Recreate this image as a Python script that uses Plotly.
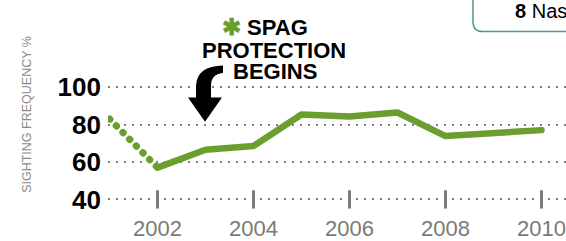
import plotly.graph_objects as go

# ---- data ----
years = [2001, 2002, 2003, 2004, 2005, 2006, 2007, 2008, 2010]
sighting_freq = [83, 57, 66.5, 68.5, 85.3, 84.3, 86.4, 73.8, 77]
y_ticks = [40, 60, 80, 100]
x_ticks = [2002, 2004, 2006, 2008, 2010]
x_tick_labels = ["2002", "2004", "2006", "2008", "2010"]

GREEN = "#6b9d2f"
GRAY = "#7a7a7a"
W, H = 566, 241
L, R, T, B = 108, 0, 68, 30
PW, PH = W - L - R, H - T - B


def px(x):
    return (x - L) / PW


def py(y):
    return (H - B - y) / PH


fig = go.Figure()

# dotted early segment
fig.add_trace(go.Scatter(
    x=years[:2], y=sighting_freq[:2], mode="lines",
    line=dict(color=GREEN, width=7, dash="0.5px,9px"),
    hoverinfo="skip", showlegend=False, cliponaxis=False))
# solid segment
fig.add_trace(go.Scatter(
    x=years[1:], y=sighting_freq[1:], mode="lines",
    line=dict(color=GREEN, width=6.5),
    hoverinfo="skip", showlegend=False, cliponaxis=False))
# x tick marks across the 40 grid line
fig.add_trace(go.Scatter(
    x=x_ticks, y=[y_ticks[0]] * len(x_ticks), mode="markers",
    marker=dict(symbol="line-ns", size=13, line=dict(color=GRAY, width=3)),
    hoverinfo="skip", showlegend=False, cliponaxis=False))

fig.update_xaxes(
    range=[2002 - (157.5 - L) / 48, 2002 + (W - 157.5) / 48],
    tickvals=x_ticks, ticktext=x_tick_labels, ticks="",
    showgrid=False, zeroline=False, showline=False,
    tickfont=dict(family="Liberation Sans, Arial", size=22, color=GRAY),
    ticklabelstandoff=4)

ppu = 38 / 20
fig.update_yaxes(
    range=[40 - (H - B - 201.3) / ppu, 100 + (87.3 - T) / ppu],
    tickvals=y_ticks, ticks="",
    showgrid=True, gridcolor="#808080", gridwidth=2, griddash="2px,6px",
    zeroline=False, showline=False,
    tickfont=dict(family="Liberation Sans, Arial", size=26, color="#000000", weight="bold"),
    ticklabelstandoff=6)

ann_font = dict(family="Liberation Sans, Arial", size=22, color="#000000", weight="bold")
annotations = [
    dict(x=px(265), y=py(26),
         text="<span style='color:%s;font-size:23px'>✱</span> SPAG" % GREEN, font=ann_font),
    dict(x=px(274), y=py(50), text="PROTECTION", font=ann_font),
    dict(x=px(275), y=py(72), text="BEGINS", font=ann_font),
    dict(x=px(27), y=py(115.5), text="SIGHTING FREQUENCY %", textangle=-90,
         font=dict(family="Liberation Sans, Arial", size=12.5, color="#8a8a8a")),
    dict(x=px(513), y=py(10), text="<b>8</b> Nassau", xanchor="left",
         font=dict(family="Liberation Sans, Arial", size=20, color="#000000")),
]
for a in annotations:
    a.setdefault("xanchor", "center")
    a.update(xref="paper", yref="paper", yanchor="middle", showarrow=False)
fig.update_layout(annotations=annotations)


def path(points_cmds):
    out = []
    for c in points_cmds:
        if isinstance(c, str):
            out.append(c)
        else:
            out.append("%.5f,%.5f" % (px(c[0]), py(c[1])))
    return " ".join(out)


arrow = path(["M", (188, 98), "L", (196, 98), "L", (196, 86), "Q", (197, 66), (223, 65.5),
              "L", (223, 73), "Q", (211, 74), (211, 86), "L", (211, 98), "L", (222, 98),
              "L", (205, 122.5), "Z"])
box = path(["M", (473, -10), "L", (473, 21), "Q", (473, 31), (483, 31), "L", (600, 31)])

fig.update_layout(shapes=[
    dict(type="path", xref="paper", yref="paper", path=arrow,
         fillcolor="#000000", line=dict(width=0)),
    dict(type="path", xref="paper", yref="paper", path=box,
         line=dict(color="#4f9a8c", width=1.5)),
])

fig.update_layout(
    width=W, height=H,
    margin=dict(l=L, r=R, t=T, b=B, pad=0),
    paper_bgcolor="white", plot_bgcolor="white",
    showlegend=False,
)

post = """
document.body.style.margin = '0';
document.body.style.overflow = 'hidden';
document.querySelectorAll('.scatterlayer path.js-line').forEach(function(p){
    p.style.strokeLinecap = 'round';
    p.style.strokeLinejoin = 'round';
});
"""
fig.write_html("out.html", config=dict(displayModeBar=False), post_script=post)
